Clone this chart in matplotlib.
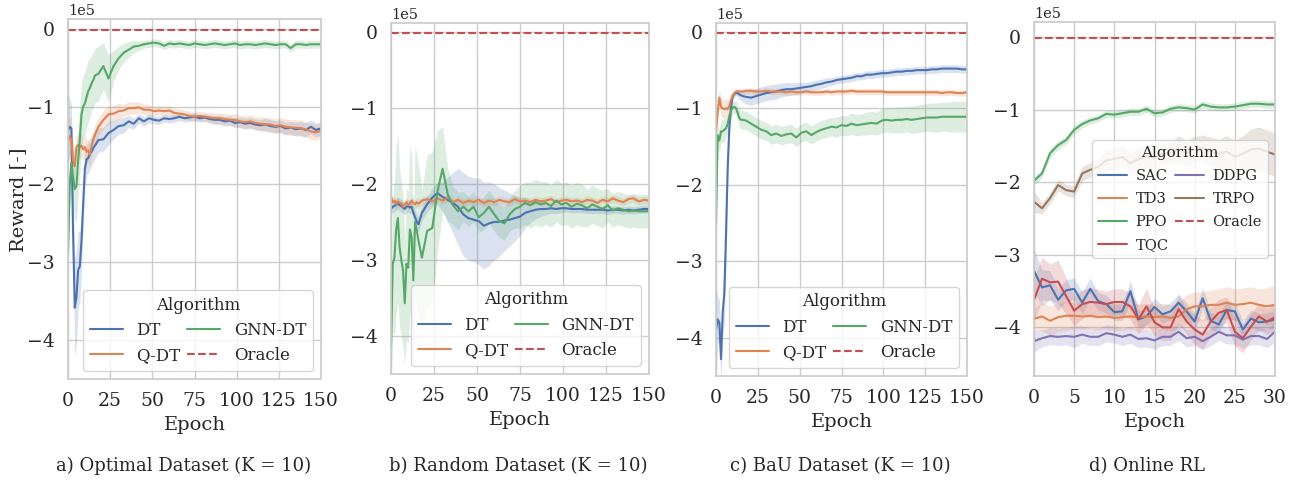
import numpy as np
import matplotlib
matplotlib.use("Agg")
import matplotlib.pyplot as plt
import seaborn as sns

# rewards are written in units of 1e5 and scaled when plotted
SCALE = 1e5
ORACLE = -0.015

# offline runs: every epoch up to 16, then every third epoch
epochs_offline = list(range(0, 17)) + list(range(18, 151, 3))
epochs_online = list(range(0, 31))

# a) Optimal dataset
opt_dt = [-1.30, -1.26, -1.28, -2.60, -3.58, -3.45, -3.10, -3.05, -2.72, -2.25, -1.80, -1.68, -1.66, -1.60, -1.58, -1.53, -1.50,
          -1.43, -1.42, -1.34, -1.30, -1.25, -1.24, -1.19, -1.22, -1.15, -1.19, -1.15, -1.17, -1.18, -1.15, -1.16,
          -1.15, -1.13, -1.15, -1.14, -1.13, -1.15, -1.14, -1.16, -1.17, -1.17, -1.19, -1.18, -1.21, -1.20, -1.22,
          -1.21, -1.23, -1.24, -1.23, -1.25, -1.26, -1.25, -1.28, -1.27, -1.29, -1.28, -1.30, -1.26, -1.30, -1.28]
opt_dt_sd = [0.50, 0.35, 0.30, 0.40, 0.62, 0.60, 0.50, 0.45, 0.40, 0.35, 0.25, 0.20, 0.20, 0.20, 0.18, 0.18, 0.17,
             0.16, 0.15, 0.15, 0.12, 0.10, 0.10, 0.08, 0.07, 0.06, 0.06, 0.06, 0.05, 0.05, 0.05, 0.05,
             0.05, 0.05, 0.05, 0.05, 0.05, 0.05, 0.05, 0.05, 0.06, 0.06, 0.06, 0.06, 0.06, 0.07, 0.07,
             0.07, 0.07, 0.07, 0.08, 0.08, 0.08, 0.08, 0.08, 0.08, 0.09, 0.09, 0.09, 0.09, 0.09, 0.09]
opt_qdt = [-1.45, -1.38, -1.42, -1.70, -1.77, -1.52, -1.49, -1.52, -1.50, -1.55, -1.52, -1.58, -1.56, -1.62, -1.50, -1.42, -1.36,
           -1.26, -1.17, -1.10, -1.09, -1.06, -1.05, -1.02, -1.02, -1.01, -1.04, -1.04, -1.06, -1.05, -1.06, -1.05,
           -1.08, -1.09, -1.10, -1.12, -1.13, -1.12, -1.13, -1.14, -1.15, -1.15, -1.16, -1.17, -1.17, -1.19, -1.20,
           -1.19, -1.21, -1.22, -1.23, -1.23, -1.25, -1.24, -1.26, -1.27, -1.27, -1.28, -1.29, -1.32, -1.33, -1.31]
opt_qdt_sd = [0.25, 0.25, 0.25, 0.22, 0.20, 0.15, 0.15, 0.15, 0.15, 0.15, 0.15, 0.15, 0.15, 0.15, 0.14, 0.13, 0.13,
              0.12, 0.12, 0.12, 0.10, 0.10, 0.08, 0.08, 0.08, 0.07, 0.07, 0.07, 0.06, 0.06, 0.06, 0.06,
              0.06, 0.06, 0.06, 0.06, 0.06, 0.06, 0.06, 0.06, 0.07, 0.07, 0.07, 0.07, 0.08, 0.08, 0.08,
              0.08, 0.08, 0.09, 0.09, 0.09, 0.09, 0.10, 0.10, 0.10, 0.10, 0.10, 0.10, 0.10, 0.10, 0.10]
opt_gnn = [-2.90, -2.00, -1.72, -1.90, -2.06, -2.02, -1.70, -1.43, -1.10, -1.00, -0.96, -0.88, -0.80, -0.76, -0.70, -0.66, -0.60,
           -0.58, -0.48, -0.64, -0.48, -0.38, -0.31, -0.27, -0.23, -0.22, -0.20, -0.19, -0.18, -0.19, -0.22, -0.19,
           -0.20, -0.19, -0.20, -0.21, -0.19, -0.20, -0.21, -0.20, -0.19, -0.20, -0.21, -0.20, -0.19, -0.21, -0.20,
           -0.20, -0.21, -0.20, -0.19, -0.20, -0.21, -0.20, -0.20, -0.25, -0.20, -0.20, -0.21, -0.20, -0.20, -0.20]
opt_gnn_sd = [0.20, 0.30, 0.35, 0.40, 0.40, 0.45, 0.45, 0.45, 0.40, 0.40, 0.40, 0.40, 0.40, 0.38, 0.36, 0.35, 0.35,
              0.35, 0.30, 0.30, 0.20, 0.15, 0.12, 0.10, 0.08, 0.06, 0.05, 0.05, 0.05, 0.05, 0.05, 0.05,
              0.05, 0.05, 0.05, 0.05, 0.05, 0.05, 0.05, 0.05, 0.05, 0.05, 0.05, 0.05, 0.05, 0.05, 0.05,
              0.05, 0.05, 0.05, 0.05, 0.05, 0.05, 0.05, 0.05, 0.05, 0.05, 0.05, 0.05, 0.05, 0.05, 0.05]

# b) Random dataset
rnd_dt = [-2.33, -2.30, -2.29, -2.27, -2.25, -2.28, -2.29, -2.31, -2.33, -2.30, -2.29, -2.31, -2.30, -2.38, -2.44, -2.50, -2.53,
          -2.38, -2.27, -2.18, -2.12, -2.17, -2.21, -2.25, -2.30, -2.40, -2.45, -2.47, -2.49, -2.55, -2.52, -2.50,
          -2.50, -2.48, -2.47, -2.45, -2.43, -2.38, -2.36, -2.34, -2.33, -2.33, -2.32, -2.33, -2.32, -2.32, -2.33,
          -2.33, -2.33, -2.34, -2.34, -2.34, -2.34, -2.35, -2.34, -2.34, -2.35, -2.34, -2.35, -2.34, -2.33, -2.33]
rnd_dt_sd = [0.08, 0.08, 0.08, 0.08, 0.08, 0.08, 0.08, 0.08, 0.08, 0.08, 0.08, 0.08, 0.08, 0.09, 0.09, 0.10, 0.10,
             0.10, 0.10, 0.12, 0.15, 0.20, 0.30, 0.40, 0.50, 0.55, 0.55, 0.55, 0.57, 0.57, 0.55, 0.50,
             0.45, 0.40, 0.35, 0.30, 0.25, 0.20, 0.15, 0.12, 0.10, 0.08, 0.07, 0.06, 0.06, 0.05, 0.05,
             0.05, 0.05, 0.05, 0.05, 0.05, 0.05, 0.05, 0.05, 0.05, 0.05, 0.05, 0.05, 0.05, 0.05, 0.05]
rnd_qdt = [-2.17, -2.24, -2.22, -2.26, -2.23, -2.25, -2.26, -2.30, -2.27, -2.24, -2.28, -2.26, -2.22, -2.25, -2.27, -2.24, -2.26,
           -2.22, -2.20, -2.23, -2.19, -2.22, -2.18, -2.24, -2.21, -2.25, -2.22, -2.24, -2.21, -2.25, -2.22, -2.24,
           -2.21, -2.23, -2.24, -2.20, -2.23, -2.22, -2.24, -2.21, -2.23, -2.22, -2.20, -2.24, -2.22, -2.21, -2.23,
           -2.22, -2.24, -2.21, -2.22, -2.25, -2.21, -2.23, -2.19, -2.22, -2.24, -2.20, -2.19, -2.23, -2.21, -2.22]
rnd_qdt_sd = [0.06, 0.06, 0.06, 0.06, 0.06, 0.06, 0.06, 0.06, 0.06, 0.06, 0.06, 0.06, 0.06, 0.06, 0.06, 0.06, 0.06,
              0.05, 0.05, 0.05, 0.05, 0.05, 0.05, 0.05, 0.05, 0.05, 0.05, 0.05, 0.05, 0.05, 0.05, 0.05,
              0.05, 0.05, 0.05, 0.05, 0.05, 0.05, 0.05, 0.05, 0.05, 0.05, 0.05, 0.05, 0.05, 0.05, 0.05,
              0.05, 0.05, 0.05, 0.05, 0.05, 0.05, 0.05, 0.05, 0.05, 0.05, 0.05, 0.05, 0.05, 0.05, 0.05]
rnd_gnn = [-4.15, -3.05, -2.97, -2.60, -2.45, -2.83, -3.00, -3.14, -3.57, -3.05, -3.10, -2.60, -2.70, -3.27, -2.50, -2.62, -2.75,
           -2.97, -2.62, -2.58, -2.10, -1.80, -2.14, -2.28, -2.36, -2.30, -2.36, -2.30, -2.44, -2.38, -2.30, -2.40,
           -2.49, -2.52, -2.40, -2.33, -2.30, -2.25, -2.28, -2.24, -2.27, -2.25, -2.29, -2.22, -2.27, -2.25, -2.30,
           -2.26, -2.28, -2.32, -2.27, -2.30, -2.33, -2.28, -2.35, -2.32, -2.34, -2.36, -2.35, -2.36, -2.36, -2.36]
rnd_gnn_sd = [0.50, 0.90, 1.00, 1.10, 1.10, 1.05, 1.00, 1.00, 0.80, 1.00, 1.00, 1.10, 1.10, 0.90, 1.00, 1.00, 1.00,
              0.90, 1.00, 1.00, 0.80, 0.55, 0.35, 0.25, 0.25, 0.20, 0.20, 0.20, 0.20, 0.22, 0.22, 0.22,
              0.22, 0.22, 0.22, 0.25, 0.28, 0.28, 0.30, 0.30, 0.30, 0.28, 0.28, 0.28, 0.28, 0.28, 0.28,
              0.28, 0.28, 0.25, 0.25, 0.25, 0.25, 0.22, 0.22, 0.22, 0.22, 0.22, 0.22, 0.22, 0.22, 0.22]

# c) BaU dataset
bau_dt = [-3.89, -3.76, -3.80, -4.28, -3.67, -3.41, -2.63, -1.76, -1.24, -0.98, -0.84, -0.81, -0.80, -0.80, -0.82, -0.83, -0.84,
          -0.85, -0.86, -0.84, -0.82, -0.80, -0.79, -0.78, -0.76, -0.75, -0.75, -0.74, -0.73, -0.72, -0.71, -0.69,
          -0.68, -0.66, -0.65, -0.63, -0.62, -0.61, -0.60, -0.58, -0.58, -0.56, -0.56, -0.55, -0.54, -0.54, -0.53,
          -0.52, -0.52, -0.51, -0.51, -0.50, -0.50, -0.50, -0.49, -0.49, -0.48, -0.48, -0.48, -0.48, -0.49, -0.49]
bau_dt_sd = [0.60, 0.30, 0.30, 0.30, 0.30, 0.40, 0.40, 0.30, 0.15, 0.08, 0.05, 0.04, 0.04, 0.05, 0.06, 0.07, 0.08,
             0.09, 0.10, 0.10, 0.10, 0.10, 0.10, 0.10, 0.09, 0.09, 0.08, 0.08, 0.07, 0.06, 0.06, 0.06,
             0.06, 0.06, 0.05, 0.05, 0.05, 0.05, 0.05, 0.05, 0.05, 0.05, 0.05, 0.05, 0.05, 0.05, 0.05,
             0.05, 0.05, 0.05, 0.05, 0.05, 0.05, 0.05, 0.05, 0.05, 0.05, 0.05, 0.05, 0.05, 0.05, 0.05]
bau_qdt = [-1.30, -1.05, -0.86, -0.98, -1.00, -1.01, -1.00, -1.01, -0.97, -0.89, -0.83, -0.80, -0.78, -0.78, -0.78, -0.78, -0.78,
           -0.77, -0.77, -0.78, -0.78, -0.77, -0.78, -0.78, -0.78, -0.79, -0.78, -0.79, -0.79, -0.78, -0.79, -0.79,
           -0.79, -0.78, -0.79, -0.78, -0.78, -0.78, -0.77, -0.78, -0.78, -0.78, -0.78, -0.78, -0.78, -0.79, -0.79,
           -0.79, -0.79, -0.79, -0.79, -0.79, -0.79, -0.79, -0.79, -0.79, -0.80, -0.79, -0.79, -0.80, -0.80, -0.79]
bau_qdt_sd = [0.25, 0.15, 0.10, 0.12, 0.12, 0.12, 0.12, 0.12, 0.10, 0.08, 0.05, 0.04, 0.04, 0.04, 0.04, 0.04, 0.04,
              0.04, 0.04, 0.04, 0.04, 0.04, 0.04, 0.04, 0.04, 0.04, 0.04, 0.04, 0.04, 0.04, 0.04, 0.04,
              0.04, 0.04, 0.04, 0.04, 0.04, 0.04, 0.04, 0.04, 0.04, 0.04, 0.04, 0.04, 0.04, 0.04, 0.04,
              0.04, 0.04, 0.04, 0.04, 0.04, 0.04, 0.04, 0.04, 0.04, 0.04, 0.04, 0.04, 0.04, 0.04, 0.04]
bau_gnn = [-2.50, -1.35, -1.42, -1.30, -1.30, -1.28, -1.26, -1.20, -1.10, -1.03, -0.99, -0.98, -1.00, -1.06, -1.13, -1.15, -1.15,
           -1.16, -1.20, -1.24, -1.28, -1.30, -1.35, -1.33, -1.36, -1.34, -1.33, -1.38, -1.32, -1.30, -1.35, -1.31,
           -1.28, -1.26, -1.24, -1.25, -1.22, -1.23, -1.20, -1.22, -1.21, -1.20, -1.19, -1.20, -1.16, -1.15, -1.16,
           -1.15, -1.15, -1.14, -1.15, -1.14, -1.13, -1.12, -1.12, -1.12, -1.11, -1.11, -1.11, -1.11, -1.11, -1.11]
bau_gnn_sd = [0.70, 0.15, 0.15, 0.15, 0.15, 0.15, 0.12, 0.12, 0.10, 0.10, 0.08, 0.08, 0.10, 0.10, 0.12, 0.12, 0.12,
              0.12, 0.12, 0.12, 0.12, 0.12, 0.12, 0.12, 0.12, 0.12, 0.12, 0.12, 0.12, 0.12, 0.12, 0.12,
              0.12, 0.12, 0.12, 0.13, 0.13, 0.13, 0.14, 0.14, 0.14, 0.15, 0.15, 0.15, 0.16, 0.16, 0.16,
              0.17, 0.17, 0.17, 0.18, 0.18, 0.18, 0.18, 0.19, 0.19, 0.19, 0.19, 0.20, 0.20, 0.20, 0.20]

# d) Online RL
sac = [-3.22, -3.45, -3.42, -3.62, -3.49, -3.47, -3.66, -3.47, -3.64, -3.68, -3.79, -3.78, -3.50, -3.89, -3.85, -3.72,
       -3.82, -3.78, -3.66, -3.78, -3.92, -3.60, -3.91, -3.96, -3.76, -3.78, -4.03, -3.88, -3.93, -3.92, -3.89]
sac_sd = [0.30, 0.25, 0.20, 0.15, 0.15, 0.15, 0.15, 0.15, 0.12, 0.12, 0.12, 0.12, 0.15, 0.12, 0.12, 0.12,
          0.12, 0.12, 0.12, 0.12, 0.12, 0.15, 0.12, 0.12, 0.12, 0.12, 0.12, 0.12, 0.12, 0.12, 0.12]
td3 = [-3.88, -3.85, -3.91, -3.86, -3.84, -3.84, -3.85, -3.84, -3.86, -3.85, -3.87, -3.86, -3.85, -3.86, -3.85, -3.86,
       -3.85, -3.87, -3.85, -3.75, -3.71, -3.71, -3.69, -3.69, -3.66, -3.69, -3.68, -3.66, -3.69, -3.71, -3.69]
td3_sd = [0.15, 0.20, 0.20, 0.20, 0.20, 0.18, 0.18, 0.18, 0.18, 0.18, 0.18, 0.18, 0.18, 0.18, 0.18, 0.18,
          0.18, 0.18, 0.18, 0.20, 0.20, 0.20, 0.20, 0.22, 0.22, 0.22, 0.22, 0.22, 0.22, 0.25, 0.28]
ppo = [-1.98, -1.88, -1.60, -1.49, -1.42, -1.28, -1.20, -1.15, -1.12, -1.06, -1.07, -1.05, -1.03, -1.03, -0.99, -1.05,
       -1.04, -0.99, -0.97, -0.98, -1.00, -0.93, -0.96, -0.97, -0.97, -0.96, -0.94, -0.92, -0.92, -0.93, -0.93]
ppo_sd = [0.06, 0.06, 0.06, 0.06, 0.06, 0.06, 0.05, 0.05, 0.05, 0.05, 0.05, 0.05, 0.05, 0.05, 0.05, 0.05,
          0.05, 0.05, 0.05, 0.05, 0.05, 0.05, 0.05, 0.05, 0.05, 0.05, 0.05, 0.05, 0.05, 0.05, 0.05]
tqc = [-3.62, -3.33, -3.38, -3.37, -3.57, -3.77, -3.68, -3.65, -3.66, -3.68, -3.65, -3.65, -3.71, -3.89, -3.71, -3.93,
       -4.00, -4.00, -3.75, -3.92, -4.03, -4.10, -3.92, -3.80, -3.76, -4.06, -4.15, -3.99, -3.85, -3.92, -3.86]
tqc_sd = [0.30, 0.30, 0.25, 0.30, 0.25, 0.20, 0.20, 0.20, 0.18, 0.18, 0.18, 0.18, 0.18, 0.20, 0.25, 0.18,
          0.18, 0.18, 0.20, 0.18, 0.20, 0.20, 0.20, 0.18, 0.18, 0.20, 0.20, 0.18, 0.18, 0.18, 0.18]
ddpg = [-4.19, -4.15, -4.12, -4.13, -4.12, -4.13, -4.10, -4.13, -4.13, -4.08, -4.10, -4.13, -4.10, -4.16, -4.15, -4.18,
        -4.13, -4.13, -4.06, -4.15, -4.13, -4.19, -4.13, -4.06, -4.11, -4.11, -4.17, -4.12, -4.12, -4.16, -4.06]
ddpg_sd = [0.15, 0.12, 0.12, 0.12, 0.12, 0.15, 0.12, 0.12, 0.12, 0.12, 0.12, 0.12, 0.12, 0.12, 0.12, 0.12,
           0.12, 0.12, 0.12, 0.12, 0.12, 0.12, 0.12, 0.12, 0.12, 0.12, 0.12, 0.12, 0.12, 0.12, 0.15]
trpo = [-2.27, -2.36, -2.22, -2.04, -2.11, -2.13, -1.88, -1.83, -1.79, -1.70, -1.68, -1.65, -1.74, -1.68, -1.65, -1.67,
        -1.61, -1.60, -1.54, -1.60, -1.55, -1.53, -1.58, -1.61, -1.58, -1.65, -1.61, -1.55, -1.54, -1.58, -1.62]
trpo_sd = [0.15, 0.08, 0.08, 0.08, 0.08, 0.08, 0.10, 0.10, 0.12, 0.15, 0.15, 0.15, 0.15, 0.15, 0.15, 0.15,
           0.15, 0.15, 0.18, 0.18, 0.18, 0.18, 0.20, 0.20, 0.22, 0.22, 0.25, 0.28, 0.30, 0.30, 0.30]

captions = ["a) Optimal Dataset (K = 10)", "b) Random Dataset (K = 10)",
            "c) BaU Dataset (K = 10)", "d) Online RL"]

pal = sns.color_palette("deep")
C_BLUE, C_ORANGE, C_GREEN, C_RED, C_PURPLE, C_BROWN = pal[0], pal[1], pal[2], pal[3], pal[4], pal[5]

sns.set_theme(style="whitegrid")
plt.rcParams['font.family'] = ['DejaVu Serif']

W, H = 1294, 482
fig = plt.figure(figsize=(W / 100, H / 100), dpi=100)

# axes boxes in pixels: left, right, top, bottom
boxes = [(68, 321, 19.3, 379.3), (391, 649, 22.7, 374),
         (716, 967, 22.7, 376), (1034, 1275, 21.7, 376)]
caption_x = [184, 518, 840, 1147]


def draw(ax, x, mean, sd, color, label):
    m = np.array(mean) * SCALE
    s = np.array(sd) * SCALE
    ax.fill_between(x, m - s, m + s, color=color, alpha=0.2, linewidth=0)
    ax.plot(x, m, color=color, linewidth=1.5, label=label)


def finish(ax, xmax, xticks, ylim):
    ax.axhline(ORACLE * SCALE, color=C_RED, linestyle='--', linewidth=1.5, label='Oracle')
    ax.set_xlim(0, xmax)
    ax.set_xticks(xticks)
    ax.set_ylim(ylim[0] * SCALE, ylim[1] * SCALE)
    ax.set_yticks([0, -1e5, -2e5, -3e5, -4e5])
    ax.ticklabel_format(axis='y', style='sci', scilimits=(0, 0))
    ax.tick_params(labelsize=13.5, colors='.15')
    ax.yaxis.get_offset_text().set_fontsize(10.5)
    ax.set_xlabel("Epoch", fontsize=14)


axes = []
for (l, r, t, b) in boxes:
    axes.append(fig.add_axes([l / W, 1 - b / H, (r - l) / W, (b - t) / H]))

offline = [(opt_dt, opt_dt_sd, opt_qdt, opt_qdt_sd, opt_gnn, opt_gnn_sd),
           (rnd_dt, rnd_dt_sd, rnd_qdt, rnd_qdt_sd, rnd_gnn, rnd_gnn_sd),
           (bau_dt, bau_dt_sd, bau_qdt, bau_qdt_sd, bau_gnn, bau_gnn_sd)]

for ax, (dt, dt_sd, qdt, qdt_sd, gnn, gnn_sd) in zip(axes[:3], offline):
    draw(ax, epochs_offline, dt, dt_sd, C_BLUE, "DT")
    draw(ax, epochs_offline, qdt, qdt_sd, C_ORANGE, "Q-DT")
    draw(ax, epochs_offline, gnn, gnn_sd, C_GREEN, "GNN-DT")
    finish(ax, 150, [0, 25, 50, 75, 100, 125, 150], (-4.5, 0.12))
    ax.legend(title="Algorithm", ncol=2, loc='lower right', fontsize=12,
              title_fontsize=12, columnspacing=0.4)

ax = axes[3]
draw(ax, epochs_online, sac, sac_sd, C_BLUE, "SAC")
draw(ax, epochs_online, td3, td3_sd, C_ORANGE, "TD3")
draw(ax, epochs_online, ppo, ppo_sd, C_GREEN, "PPO")
draw(ax, epochs_online, tqc, tqc_sd, C_RED, "TQC")
draw(ax, epochs_online, ddpg, ddpg_sd, C_PURPLE, "DDPG")
draw(ax, epochs_online, trpo, trpo_sd, C_BROWN, "TRPO")
finish(ax, 30, [0, 5, 10, 15, 20, 25, 30], (-4.67, 0.21))
ax.legend(title="Algorithm", ncol=2, loc='center right', fontsize=10.5,
          title_fontsize=11, columnspacing=0.4, labelspacing=0.62, handletextpad=0.6)

axes[0].set_ylabel("Reward [-]", fontsize=14, labelpad=0)

for cx, cap in zip(caption_x, captions):
    fig.text(cx / W, 1 - 466 / H, cap, ha='center', va='center', fontsize=13, color='.15')

fig.savefig("out.png", dpi=100)
